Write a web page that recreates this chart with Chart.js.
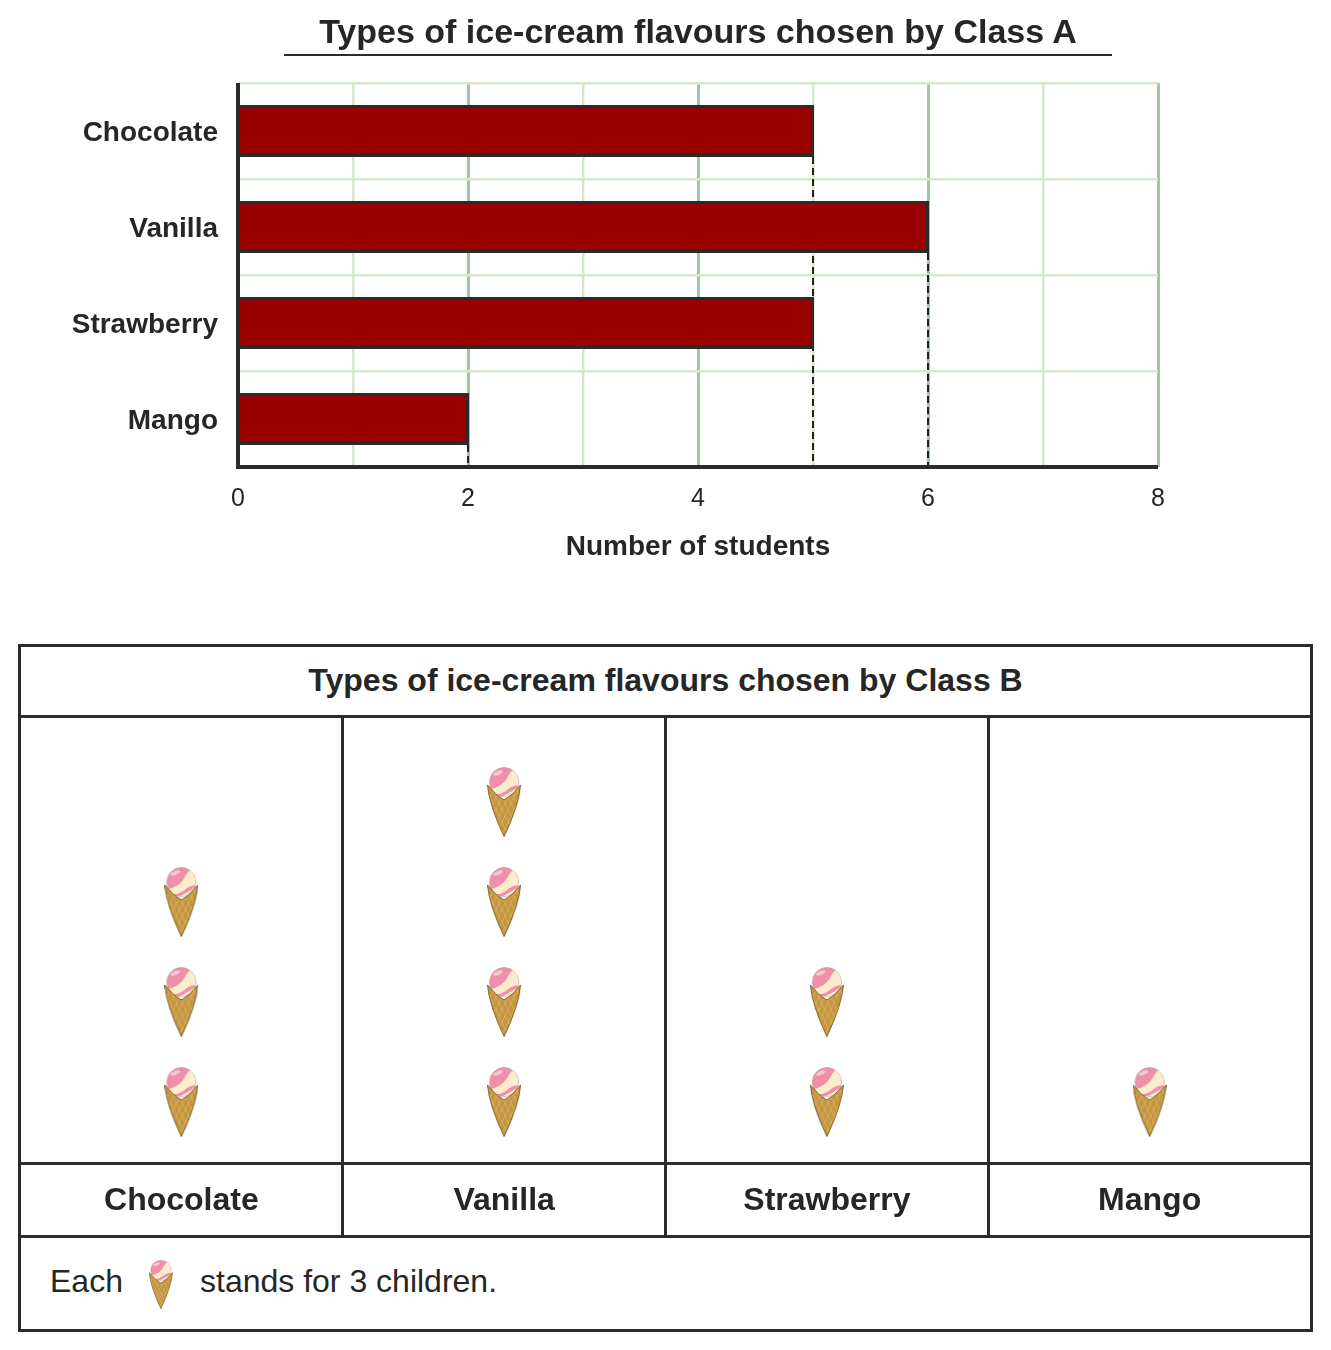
<!DOCTYPE html>
<html>
<head>
<meta charset="utf-8">
<script src="https://cdn.jsdelivr.net/npm/chart.js@4"></script>
<style>
  body { margin: 0; background: #fff; font-family: "Liberation Sans", Arial, sans-serif; color: #262626; }
  .abs { position: absolute; }
  #titleA { left: 284px; top: 9px; width: 828px; height: 45px; line-height: 44px; text-align: center;
            font-size: 34px; font-weight: bold; border-bottom: 2px solid #2b2b2b; }
  #frame { left: 18px; top: 644px; width: 1295px; height: 688px; box-sizing: border-box; border: 3px solid #2b2b2b; }
  #titleB { left: 0; top: 0; width: 100%; height: 68px; line-height: 67px; text-align: center;
            font-size: 32px; font-weight: bold; border-bottom: 3px solid #2b2b2b; }
  #footer { left: 0; top: 588px; width: 100%; height: 94px; border-top: 3px solid #2b2b2b; font-size: 32px; }
  #footer span { position: absolute; top: 24px; line-height: 38px; white-space: nowrap; }
</style>
</head>
<body>
<canvas id="chartA" class="abs" style="left:0;top:0"></canvas>
<div id="titleA" class="abs">Types of ice-cream flavours chosen by Class A</div>
<div id="frame" class="abs">
  <div id="titleB" class="abs">Types of ice-cream flavours chosen by Class B</div>
  <div id="footer" class="abs">
    <span style="left:29px">Each</span>
    <canvas id="keyIcon" class="abs" width="26" height="49" style="left:128px;top:22px"></canvas>
    <span style="left:179px">stands for 3 children.</span>
  </div>
</div>
<canvas id="chartB" class="abs" style="left:20px;top:717px"></canvas>
<script>
var flavours = ['Chocolate', 'Vanilla', 'Strawberry', 'Mango'];
var classAStudents = [5, 6, 5, 2];
var classBIcons = [3, 4, 2, 1];
var xTickMax = 8;

var DARK = '#2b2b2b';
var FONT = '"Liberation Sans", Arial, sans-serif';

// cone body outline with its curved front rim
function conePath(c) {
  c.beginPath();
  c.moveTo(0.5, 18);
  c.quadraticCurveTo(8, 28, 17, 33);
  c.quadraticCurveTo(26, 28, 33.5, 18);
  c.quadraticCurveTo(32, 38, 17, 69.5);
  c.quadraticCurveTo(2, 38, 0.5, 18);
  c.closePath();
}

// draws the cone picture, s = scale against the 34x70 original
function drawCone(c, s) {
  c.save();
  c.scale(s, s);
  // scoop
  c.beginPath();
  c.arc(17, 15, 14.5, 0, Math.PI * 2);
  c.fillStyle = '#f08fa9';
  c.fill();
  c.strokeStyle = '#b5a5a5';
  c.lineWidth = 0.8;
  c.stroke();
  // cream swirl
  c.save();
  c.clip();
  c.fillStyle = '#fbeccb';
  c.beginPath();
  c.moveTo(3, 22);
  c.quadraticCurveTo(15, 20, 20, 11);
  c.quadraticCurveTo(23, 5, 26, 3);
  c.quadraticCurveTo(33, 10, 31, 18);
  c.quadraticCurveTo(24, 19, 20, 23);
  c.quadraticCurveTo(14, 28, 8, 27);
  c.closePath();
  c.fill();
  c.fillStyle = '#fbeccb';
  c.beginPath();
  c.moveTo(12, 31);
  c.quadraticCurveTo(22, 26, 30, 21);
  c.lineTo(26, 32);
  c.closePath();
  c.fill();
  c.fillStyle = '#f9c6d2';
  c.beginPath();
  c.ellipse(11, 6, 5, 2, -0.4, 0, Math.PI * 2);
  c.fill();
  c.restore();
  // cone over the lower part of the scoop
  conePath(c);
  c.fillStyle = '#c4963f';
  c.fill();
  c.save();
  c.clip();
  c.strokeStyle = 'rgba(235,205,135,0.6)';
  c.lineWidth = 0.7;
  for (var i = -70; i < 70; i += 6) {
    c.beginPath(); c.moveTo(i, 15); c.lineTo(i + 26, 70); c.stroke();
    c.beginPath(); c.moveTo(i + 26, 15); c.lineTo(i, 70); c.stroke();
  }
  c.restore();
  c.strokeStyle = '#80602a';
  c.lineWidth = 1;
  conePath(c);
  c.stroke();
  c.restore();
}

var coneImage = document.createElement('canvas');
coneImage.width = 34;
coneImage.height = 70;
drawCone(coneImage.getContext('2d'), 1);
drawCone(document.getElementById('keyIcon').getContext('2d'), 0.7);

// dashed drop lines from the bar ends down to the axis, drawn under the bars
var dropLines = {
  id: 'dropLines',
  beforeDatasetsDraw: function(chart) {
    var c = chart.ctx;
    var bars = chart.getDatasetMeta(0).data;
    c.save();
    c.strokeStyle = '#222';
    c.lineWidth = 2;
    c.setLineDash([7, 4]);
    bars.forEach(function(bar, i) {
      if (classAStudents.indexOf(classAStudents[i]) !== i) return;
      var x = chart.scales.x.getPixelForValue(classAStudents[i]);
      c.beginPath();
      c.moveTo(x, bar.y + 26);
      c.lineTo(x, chart.chartArea.bottom);
      c.stroke();
    });
    c.restore();
  }
};

// the two dark axis lines, ending flush with the plot
var axisLines = {
  id: 'axisLines',
  afterDatasetsDraw: function(chart) {
    var c = chart.ctx;
    var a = chart.chartArea;
    c.save();
    c.fillStyle = DARK;
    c.fillRect(a.left - 2, a.top, 4, a.bottom - a.top + 2);
    c.fillRect(a.left - 2, a.bottom - 2, a.right - a.left + 2, 4);
    c.restore();
  }
};

var cA = document.getElementById('chartA');
cA.width = 1331;
cA.height = 580;
new Chart(cA, {
  type: 'bar',
  data: {
    labels: flavours,
    datasets: [{
      data: classAStudents,
      backgroundColor: '#990000',
      borderColor: DARK,
      borderWidth: 3,
      borderSkipped: 'start',
      barThickness: 50,
      inflateAmount: 1
    }]
  },
  plugins: [dropLines, axisLines],
  options: {
    indexAxis: 'y',
    responsive: false,
    animation: false,
    devicePixelRatio: 1,
    layout: { autoPadding: false, padding: { top: 83, right: 173, left: 0, bottom: 0 } },
    plugins: { legend: { display: false }, title: { display: false }, tooltip: { enabled: false } },
    scales: {
      x: {
        min: 0,
        max: xTickMax,
        afterFit: function(scale) { scale.height = 113; },
        ticks: {
          stepSize: 1,
          autoSkip: false,
          maxRotation: 0,
          padding: 17,
          color: '#262626',
          font: { family: FONT, size: 25 },
          callback: function(v) { return v % 2 === 0 ? v : ''; }
        },
        grid: {
          drawTicks: false,
          lineWidth: function(ctx) { return ctx.tick && ctx.tick.value % 2 === 0 ? 3 : 2.5; },
          color: function(ctx) { return ctx.tick && ctx.tick.value % 2 === 0 ? '#a0c8a0' : '#d5e8cc'; }
        },
        border: { display: false },
        title: {
          display: true,
          text: 'Number of students',
          color: '#262626',
          font: { family: FONT, size: 28, weight: 'bold' },
          padding: { top: 16, bottom: 16 }
        }
      },
      y: {
        afterFit: function(scale) { scale.width = 238; },
        ticks: {
          padding: 20,
          labelOffset: 2,
          color: '#262626',
          font: { family: FONT, size: 28, weight: 'bold' }
        },
        grid: { drawTicks: false, offset: true, color: '#d5e8cc', lineWidth: 2.5 },
        border: { display: false }
      }
    }
  }
});

// one point per cone, stacked upwards in each column
var conePoints = [];
flavours.forEach(function(name, i) {
  for (var n = 1; n <= classBIcons[i]; n++) {
    conePoints.push({ x: name, y: n });
  }
});

// outer edges are left to the frame
function innerLine(ctx) {
  return ctx.index === 0 || !ctx.tick ? 'transparent' : DARK;
}

var cB = document.getElementById('chartB');
cB.width = 1291;
cB.height = 519;
new Chart(cB, {
  type: 'line',
  data: {
    labels: flavours,
    datasets: [{
      data: conePoints,
      showLine: false,
      pointStyle: coneImage,
      clip: false
    }]
  },
  options: {
    responsive: false,
    animation: false,
    devicePixelRatio: 1,
    layout: { autoPadding: false, padding: 0 },
    plugins: { legend: { display: false }, title: { display: false }, tooltip: { enabled: false } },
    scales: {
      x: {
        type: 'category',
        labels: flavours,
        offset: true,
        afterFit: function(scale) { scale.height = 73; },
        ticks: {
          maxRotation: 0,
          autoSkip: false,
          padding: -54,
          color: '#262626',
          font: { family: FONT, size: 32, weight: 'bold' }
        },
        grid: {
          offset: true,
          color: innerLine,
          tickColor: innerLine,
          lineWidth: 3,
          tickWidth: 3,
          tickLength: 73
        },
        border: { color: DARK, width: 3 }
      },
      y: {
        display: false,
        min: 0.39,
        max: 4.85
      }
    }
  }
});
</script>
</body>
</html>
